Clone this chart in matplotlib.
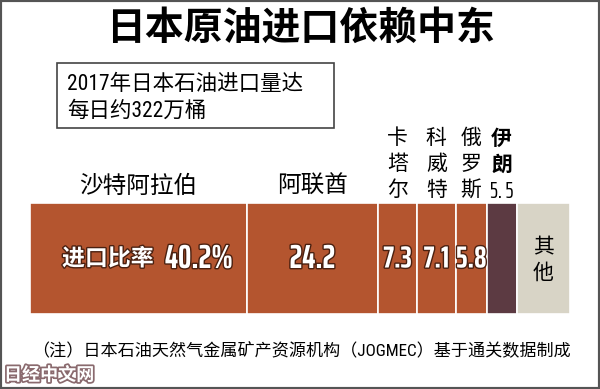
import matplotlib.pyplot as plt
import matplotlib.patheffects as pe
from matplotlib.patches import Rectangle
import numpy as np

plt.rcParams['font.family'] = ['Noto Sans CJK SC', 'DejaVu Sans']

# data
countries = ['沙特阿拉伯', '阿联酋', '卡塔尔', '科威特', '俄罗斯', '伊朗', '其他']
shares = [40.2, 24.2, 7.3, 7.1, 5.8, 5.5, 9.9]
value_labels = ['40.2%', '24.2', '7.3', '7.1', '5.8', '', '']
colors = ['#b4552f', '#b4552f', '#b4552f', '#b4552f', '#b4552f', '#5c3a42', '#d8d4c6']

title = '日本原油进口依赖中东'
note = ['2017年日本石油进口量达', '每日约322万桶']
source = '（注）日本石油天然气金属矿产资源机构（JOGMEC）基于通关数据制成'

W, H = 600, 389
fig = plt.figure(figsize=(W / 100, H / 100), dpi=100)
fig.patch.set_facecolor('white')

# bar axes: x in percent, y in pixels
ax = fig.add_axes([30 / W, 0, 540 / W, 1])
ax.set_xlim(0, 100)
ax.set_ylim(H, 0)
ax.axis('off')

lefts = np.concatenate([[0], np.cumsum(shares)[:-1]])
centers = lefts + np.array(shares) / 2
ax.barh(258.5, shares, left=lefts, height=111, color=colors,
        edgecolor='white', linewidth=1.2)

narrow = ['Roboto Condensed', 'Noto Sans CJK SC', 'DejaVu Sans']
squeezed = ['Saira ExtraCondensed', 'Barlow Condensed', 'Noto Sans CJK SC', 'DejaVu Sans']
outline = [pe.withStroke(linewidth=2.0, foreground='#4a2010')]

# labels above bars
for i in (0, 1):
    ax.text(centers[i], 186, countries[i], ha='center', va='center', fontsize=17, color='black')
for i in (2, 3, 4):
    for j, ch in enumerate(countries[i]):
        ax.text(centers[i], 138 + 26 * j, ch, ha='center', va='center', fontsize=15, color='black')
for j, ch in enumerate(countries[5]):
    ax.text(centers[5], 138 + 26 * j, ch, ha='center', va='center', fontsize=15,
            color='black', fontweight='bold')
ax.text(centers[5], 191, str(shares[5]).replace('.', '. '), ha='center', va='center',
        fontsize=16, color='black', family=squeezed)

# values inside bars
ax.text(centers[0] - 5.7, 259, '进口比率', ha='center', va='center', fontsize=16.5,
        color='white', fontweight='bold', path_effects=outline)
ax.text(centers[0] + 11.2, 259, value_labels[0], ha='center', va='center', fontsize=24,
        color='white', fontweight='bold', family=squeezed, path_effects=outline)
for i in (1, 2, 3, 4):
    size = 24 if shares[i] > 10 else 22
    ax.text(centers[i], 259, value_labels[i], ha='center', va='center', fontsize=size,
            color='white', fontweight='bold', family=squeezed, path_effects=outline)
for j, ch in enumerate(countries[6]):
    ax.text(centers[6], 247 + 26 * j, ch, ha='center', va='center', fontsize=15, color='black')

# title, note box, source
fig.text(0.5, 1 - 28 / H, title, ha='center', va='center', fontsize=28, fontweight='bold')
fig.patches.append(Rectangle((57 / W, 1 - 128 / H), 277 / W, 65 / H, transform=fig.transFigure,
                             facecolor='white', edgecolor='#444444', linewidth=1.2))
fig.text(67 / W, 1 - 84 / H, note[0], ha='left', va='center', fontsize=15.5, family=narrow)
fig.text(67 / W, 1 - 111 / H, note[1], ha='left', va='center', fontsize=15.5, family=narrow)
fig.text(301 / W, 1 - 350 / H, source, ha='center', va='center', fontsize=12.3, family=narrow)

# watermark
fig.text(4 / W, 1 - 375 / H, '日经中文网', ha='left', va='center', fontsize=13, fontweight='bold',
         color='white', path_effects=[pe.withStroke(linewidth=2.5, foreground='#8a6a6e')])

# frame
fig.patches.append(Rectangle((0, 0), 1, 1, transform=fig.transFigure, facecolor='none',
                             edgecolor='#555555', linewidth=3))

fig.savefig('out.png', dpi=100)
